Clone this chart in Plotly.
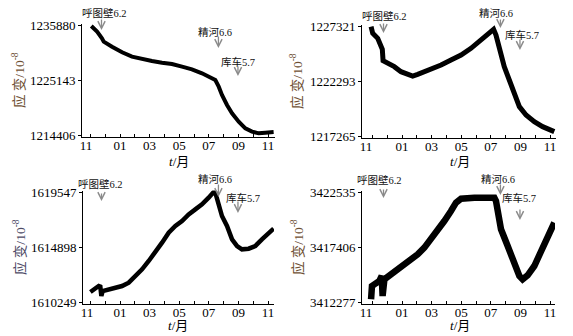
import plotly.graph_objects as go

# ---------------- data (months since 2016-11, strain values) ----------------
month_labels = ["11", "01", "03", "05", "07", "09", "11"]
month_label_pos = [0, 2, 4, 6, 8, 10, 12]

events = ["呼图壁6.2", "精河6.6", "库车5.7"]
event_month = [0.75, 8.65, 9.97]

p1_t = [0.06, 0.45, 0.78, 0.90, 1.46, 2.14, 2.81, 3.49, 4.16, 4.84, 5.51, 6.19, 6.86,
        7.54, 8.10, 8.44, 8.67, 8.89, 9.23, 9.57, 10.02, 10.47, 10.92, 11.37, 11.82, 12.38]
p1_v = [1235685, 1234578, 1233278, 1232626, 1231650, 1230545, 1229698, 1229178, 1228853,
        1228527, 1228267, 1227746, 1227226, 1226446, 1225665, 1225144, 1223843, 1222216,
        1220264, 1218637, 1217011, 1215710, 1215059, 1214734, 1214864, 1214994]
p1_ticks = [1214406, 1225143, 1235880]

p2_t = [-0.09, 0.02, 0.36, 0.63, 0.67, 0.72, 1.14, 1.48, 1.93, 2.38, 2.72, 3.06, 3.51, 3.96,
        4.64, 5.31, 5.99, 6.66, 7.34, 7.90, 8.19, 8.35, 8.58, 8.91, 9.25, 9.59, 9.93, 10.38,
        10.94, 11.50, 11.95, 12.29]
p2_v = [1227260, 1226651, 1226194, 1225431, 1225188, 1224152, 1223908, 1223603, 1223146,
        1222903, 1222750, 1222903, 1223146, 1223360, 1223756, 1224213, 1224670, 1225280,
        1226041, 1226651, 1227017, 1226498, 1225127, 1223603, 1222384, 1221013, 1219946,
        1219185, 1218575, 1218118, 1217813, 1217661]
p2_ticks = [1217265, 1222293, 1227321]

p3_t = [0.00, 0.33, 0.56, 0.67, 0.74, 0.83, 1.23, 1.68, 2.14, 2.59, 3.04, 3.49, 3.94, 4.39,
        4.84, 5.29, 5.74, 6.19, 6.64, 7.09, 7.54, 7.99, 8.33, 8.44, 8.67, 8.89, 9.23, 9.57,
        9.91, 10.24, 10.69, 11.14, 11.59, 12.05, 12.38]
p3_v = [1611094, 1611460, 1611601, 1611545, 1610756, 1611178, 1611320, 1611460, 1611601,
        1611883, 1612446, 1613010, 1613715, 1614419, 1615264, 1616109, 1616673, 1617096,
        1617659, 1618082, 1618505, 1619068, 1619547, 1619490, 1618364, 1617518, 1616673,
        1615546, 1614982, 1614701, 1614757, 1614982, 1615546, 1616109, 1616447]
p3_ticks = [1610249, 1614898, 1619547]

p4_t = [-0.09, -0.03, 0.13, 0.47, 0.63, 0.69, 0.81, 1.26, 1.71, 2.16, 2.61, 3.06, 3.51, 3.96,
        4.41, 4.86, 5.31, 5.65, 5.99, 6.44, 6.89, 7.34, 7.79, 8.24, 8.35, 8.46, 8.69, 9.14,
        9.59, 9.93, 10.15, 10.49, 10.94, 11.39, 11.84, 12.29]
p4_v = [3412527, 3413770, 3413925, 3414236, 3414702, 3412837, 3414392, 3414858, 3415168,
        3415635, 3416256, 3416723, 3417344, 3418122, 3418898, 3419831, 3420763, 3421540,
        3421913, 3422006, 3422006, 3422006, 3422006, 3422006, 3421696, 3420608, 3419054,
        3417500, 3415635, 3414702, 3414392, 3414765, 3415635, 3416878, 3418432, 3419675]
p4_ticks = [3412277, 3417406, 3422535]

# ---------------- layout helpers ----------------
OFF = 8              # page body margin in the browser
W, H = 573 - OFF, 336 - OFF
def fx(p):
    return (p - OFF) / W
def fy(p):
    return 1 - (p - OFF) / H

SERIF = "Liberation Serif, Times New Roman, serif"
CJK = "Liberation Serif, Noto Sans CJK SC, serif"

panels = [
    dict(t=p1_t, v=p1_v, ticks=p1_ticks, xd=(82, 275), yt=(25, 135), x0=90.4, lw=4,
         title_x=19, xt_x=179, xt_y=161, tcol="#6e4f33",
         texts=[(104, 13), (215, 32), (238, 62)],
         arrows=[(18, 30), (35, 48), (65, 76)]),
    dict(t=p2_t, v=p2_v, ticks=p2_ticks, xd=(362, 556), yt=(26, 136), x0=372.4, lw=5,
         title_x=297, xt_x=460, xt_y=161, tcol="#6e4f33",
         texts=[(384, 16), (496, 13), (522, 35)],
         arrows=[(22, 33), (18, 28), (38, 50)]),
    dict(t=p3_t, v=p3_v, ticks=p3_ticks, xd=(83, 274), yt=(192, 302), x0=90.4, lw=4.5,
         title_x=19, xt_x=178, xt_y=325, tcol="#4d4a66",
         texts=[(100, 184), (215, 179), (243, 198)],
         arrows=[(192, 201), (183, 197), (200, 213)]),
    dict(t=p4_t, v=p4_v, ticks=p4_ticks, xd=(362, 555), yt=(192, 302), x0=372.4, lw=6.5,
         title_x=297, xt_x=460, xt_y=325, tcol="#6e4f33",
         texts=[(379, 180), (498, 179), (519, 198)],
         arrows=[(188, 198), (183, 195), (208, 220)]),
]

PPM = 14.8  # pixels per month
fig = go.Figure()
annotations = []
layout = {}

for i, p in enumerate(panels, start=1):
    xname = "xaxis" if i == 1 else f"xaxis{i}"
    yname = "yaxis" if i == 1 else f"yaxis{i}"
    xref = "x" if i == 1 else f"x{i}"
    yref = "y" if i == 1 else f"y{i}"

    fig.add_trace(go.Scatter(x=p["t"], y=p["v"], mode="lines",
                             line=dict(color="black", width=p["lw"]),
                             xaxis=xref, yaxis=yref, showlegend=False,
                             hoverinfo="skip"))

    lo, hi = p["ticks"][0], p["ticks"][-1]
    ty, by = p["yt"]
    upp = (hi - lo) / (by - ty)
    pad = 1.5
    yr = [lo - pad * upp, hi + pad * upp]
    yd = [fy(by + pad), fy(ty - pad)]

    xl, xr = p["xd"]
    xrng = [(xl - p["x0"]) / PPM, (xr - p["x0"]) / PPM]
    first_pos = (xl + 4 - p["x0"]) / PPM
    tickvals = [first_pos] + month_label_pos[1:]

    layout[xname] = dict(domain=[fx(xl), fx(xr)], range=xrng, anchor=yref,
                         automargin=False,
                         showline=True, linecolor="black", linewidth=1,
                         showgrid=False, zeroline=False,
                         tickmode="array", tickvals=tickvals, ticktext=month_labels,
                         ticks="", ticklen=0, ticklabelstandoff=-3,
                         minor=dict(ticks="inside", tickmode="linear", tick0=0, dtick=1,
                                    ticklen=3, tickcolor="black", tickwidth=1, showgrid=False),
                         tickfont=dict(family=SERIF, size=13, color="black"))
    layout[yname] = dict(domain=yd, range=yr, anchor=xref,
                         automargin=False,
                         showline=True, linecolor="black", linewidth=1,
                         showgrid=False, zeroline=False,
                         tickmode="array", tickvals=p["ticks"],
                         ticktext=[str(t) for t in p["ticks"]],
                         ticks="outside", ticklen=3, tickcolor="black",
                         tickfont=dict(family=SERIF, size=13, color="black"))

    # y title
    annotations.append(dict(text="应 变/10<sup>-8</sup>", xref="paper", yref="paper",
                            x=fx(p["title_x"]), y=fy((ty + by) / 2), textangle=-90,
                            showarrow=False, xanchor="center", yanchor="middle",
                            font=dict(family=CJK, size=13.5, color=p["tcol"])))
    # x title
    annotations.append(dict(text="<i>t</i>/月", xref="paper", yref="paper",
                            x=fx(p["xt_x"]), y=fy(p["xt_y"]), showarrow=False,
                            xanchor="center", yanchor="middle",
                            font=dict(family=CJK, size=13, color="black")))
    # event labels and arrows
    for name, m, (tx, tyy), (a0, a1) in zip(events, event_month, p["texts"], p["arrows"]):
        annotations.append(dict(text=name, xref="paper", yref="paper",
                                x=fx(tx), y=fy(tyy), showarrow=False,
                                xanchor="center", yanchor="middle",
                                font=dict(family=CJK, size=10.5, color="#111111")))
        annotations.append(dict(text="", xref=xref, yref="paper",
                                x=m, y=fy(a1), showarrow=True,
                                ax=0, ay=-(a1 - a0), axref="pixel", ayref="pixel",
                                arrowhead=5, arrowsize=1.1, arrowwidth=1.3,
                                arrowcolor="#8a8a8a", standoff=0, startstandoff=0))

fig.update_layout(width=W, height=H, margin=dict(l=0, r=0, t=0, b=0),
                  paper_bgcolor="white", plot_bgcolor="white",
                  annotations=annotations, **layout)

fig.write_html("out.html")
